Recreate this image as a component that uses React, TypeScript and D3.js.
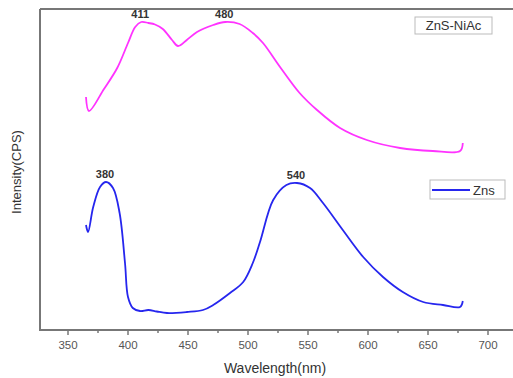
import React from "react";
import * as d3 from "d3";

const xTicks = [350, 400, 450, 500, 550, 600, 650, 700];
const xMinorTicks = [375, 425, 475, 525, 575, 625, 675];

const niacWave = [365, 367.5, 380, 391, 400, 406, 411, 417, 422.5, 429, 436.7, 441.7, 449, 457.5, 471, 481, 493, 504, 512.5, 526.7, 543, 557.5, 576.7, 599, 626.7, 654, 676.7, 679];
const niacInt = [2330, 2190, 2410, 2620, 2870, 3030, 3080, 3070, 3055, 3010, 2900, 2840, 2900, 2980, 3050, 3080, 3060, 2970, 2870, 2630, 2370, 2200, 2020, 1900, 1820, 1790, 1790, 1870];

const znsWave = [365, 366.7, 371, 376.7, 381.7, 387.5, 393, 397.5, 400, 404, 410, 417, 424, 432.5, 449, 462.5, 471, 485, 496, 504, 510, 521, 532, 540.8, 551.7, 562.5, 579, 596, 612.5, 629, 646, 662.5, 676.7, 679];
const znsInt = [1050, 980, 1230, 1430, 1480, 1420, 1170, 670, 330, 220, 190, 200, 185, 170, 180, 200, 250, 370, 480, 670, 880, 1300, 1450, 1470, 1420, 1270, 1000, 730, 530, 380, 280, 250, 230, 290];

const peakLabels = [
  { label: "411", x: 411, y: 3080 },
  { label: "480", x: 481, y: 3080 },
  { label: "380", x: 381.7, y: 1480 },
  { label: "540", x: 540.8, y: 1470 },
];

export default function App() {
  const W = 513, H = 378;
  const left = 40, top = 9, bottom = 330;
  const x = d3.scaleLinear().domain([350, 700]).range([68, 488]);
  const y = d3.scaleLinear().domain([0, 3210]).range([bottom, top]);
  const line = d3
    .line<[number, number]>()
    .x((d) => x(d[0]))
    .y((d) => y(d[1]))
    .curve(d3.curveCatmullRom.alpha(0.5));
  const niac = line(niacWave.map((w, i) => [w, niacInt[i]] as [number, number])) || "";
  const zns = line(znsWave.map((w, i) => [w, znsInt[i]] as [number, number])) || "";
  const axisColor = "#777";
  const font = "Arial, 'Liberation Sans', sans-serif";
  return (
    <svg width={W} height={H} style={{ position: "absolute", left: 0, top: 0, background: "#fff" }} fontFamily={font}>
      <rect x={0} y={0} width={W} height={H} fill="#fff" />
      <line x1={left} y1={top} x2={W} y2={top} stroke={axisColor} strokeWidth={2} />
      <line x1={left} y1={top} x2={left} y2={bottom} stroke={axisColor} strokeWidth={2} />
      <line x1={left - 1} y1={bottom} x2={W} y2={bottom} stroke={axisColor} strokeWidth={2} />
      {xTicks.map((t) => (
        <g key={t}>
          <line x1={x(t)} x2={x(t)} y1={bottom} y2={bottom + 5} stroke={axisColor} strokeWidth={1.5} />
          <text x={x(t)} y={bottom + 19} textAnchor="middle" fontSize={11.5} fill="#555">{t}</text>
        </g>
      ))}
      {xMinorTicks.map((t) => (
        <line key={t} x1={x(t)} x2={x(t)} y1={bottom} y2={bottom + 3} stroke={axisColor} strokeWidth={1.5} />
      ))}
      <text x={275} y={373} textAnchor="middle" fontSize={14} fill="#333">Wavelength(nm)</text>
      <text transform={`translate(21,172) rotate(-90)`} textAnchor="middle" fontSize={13} fill="#333">Intensity(CPS)</text>
      <path d={niac} fill="none" stroke="#ff33ff" strokeWidth={1.8} />
      <path d={zns} fill="none" stroke="#2626ee" strokeWidth={1.8} />
      {peakLabels.map((p) => (
        <text key={p.label} x={x(p.x) - 1} y={y(p.y) - 4} textAnchor="middle" fontSize={11} fontWeight="bold" fill="#333">{p.label}</text>
      ))}
      <rect x={415} y={17} width={77} height={17} fill="#fff" stroke="#bbb" strokeWidth={1} />
      <text x={453.5} y={30} textAnchor="middle" fontSize={13} fill="#333">ZnS-NiAc</text>
      <rect x={430} y={180} width={75} height={19} fill="#fff" stroke="#bbb" strokeWidth={1} />
      <line x1={432} x2={470} y1={190} y2={190} stroke="#2626ee" strokeWidth={1.8} />
      <text x={473} y={195} fontSize={13} fill="#333">Zns</text>
    </svg>
  );
}
